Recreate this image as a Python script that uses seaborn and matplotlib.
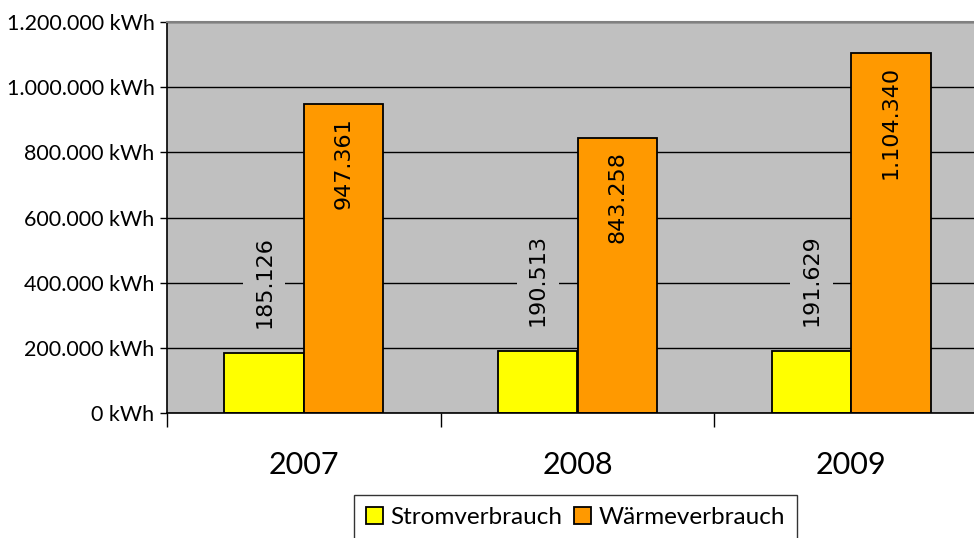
import matplotlib
matplotlib.use("Agg")
import matplotlib.pyplot as plt
import matplotlib.ticker as mticker
import numpy as np
import pandas as pd
import seaborn as sns

years = ["2007", "2008", "2009"]
series = ["Stromverbrauch", "Wärmeverbrauch"]
strom = [185126, 190513, 191629]
waerme = [947361, 843258, 1104340]
colors = ["#FFFF00", "#FF9900"]

df = pd.DataFrame({
    "Jahr": years * 2,
    "Art": [series[0]] * 3 + [series[1]] * 3,
    "kWh": strom + waerme,
})

def de_num(v):
    return f"{int(round(v)):,}".replace(",", ".")

sns.set_style("white")
plt.rcParams["font.family"] = ["Lato", "DejaVu Sans"]
plt.rcParams["text.color"] = "black"
plt.rcParams["xtick.color"] = "black"
plt.rcParams["ytick.color"] = "black"

fig = plt.figure(figsize=(9.74, 5.38), dpi=100)
ax = fig.add_axes([167 / 974, 1 - 413 / 538, 821 / 974, 391 / 538])
ax.set_facecolor("#C0C0C0")

sns.barplot(data=df, x="Jahr", y="kWh", hue="Art", palette=colors,
            width=0.58, gap=0, edgecolor="black", linewidth=1.3,
            saturation=1, ax=ax, legend=True)

ax.set_ylim(0, 1200000)
ax.set_xlim(-0.5, 2.5)
ax.yaxis.set_major_locator(mticker.MultipleLocator(200000))
ax.yaxis.set_major_formatter(mticker.FuncFormatter(lambda v, p: de_num(v) + " kWh"))
ax.grid(axis="y", color="black", linewidth=1)
ax.set_axisbelow(True)
ax.tick_params(axis="y", left=True, length=5, width=1, labelsize=15.5, pad=4)

# category boundaries as ticks, year names as minor labels
ax.set_xticks([-0.5, 0.5, 1.5, 2.5])
ax.set_xticklabels([])
ax.tick_params(axis="x", which="major", bottom=True, length=10, width=1)
ax.set_xticks([0, 1, 2], minor=True)
ax.set_xticklabels(years, minor=True, fontsize=22)
ax.tick_params(axis="x", which="minor", length=0, pad=27)
ax.set_xlabel("")
ax.set_ylabel("")

for side in ["left", "bottom"]:
    ax.spines[side].set_color("black")
    ax.spines[side].set_linewidth(1.2)
ax.spines["top"].set_color("#808080")
ax.spines["top"].set_linewidth(1.5)
ax.spines["right"].set_visible(False)

# value labels
for i, cont in enumerate(ax.containers):
    for bar in cont:
        h = bar.get_height()
        x = bar.get_x() + bar.get_width() / 2
        if i == 0:
            ax.annotate(de_num(h), (x, h), xytext=(0, 18), textcoords="offset points",
                        rotation=90, ha="center", va="bottom", fontsize=16,
                        family="DejaVu Sans",
                        bbox=dict(boxstyle="square,pad=0.5", fc="#C0C0C0", ec="none"))
        else:
            ax.annotate(de_num(h), (x, h), xytext=(0, -9), textcoords="offset points",
                        rotation=90, ha="center", va="top", fontsize=16,
                        family="DejaVu Sans")

ax.get_legend().remove()
handles = [plt.Rectangle((0, 0), 1, 1, fc=c, ec="black", lw=1.3) for c in colors]
leg = fig.legend(handles, series, loc="upper center", bbox_to_anchor=(575.5 / 974, 1 - 495 / 538),
                 ncol=2, fontsize=17.5, frameon=True, fancybox=False, edgecolor="black",
                 handlelength=0.7, handleheight=0.7, handletextpad=0.3,
                 columnspacing=0.5, borderpad=0.5, borderaxespad=0)
leg.get_frame().set_linewidth(1)

fig.savefig("out.png", dpi=100)
